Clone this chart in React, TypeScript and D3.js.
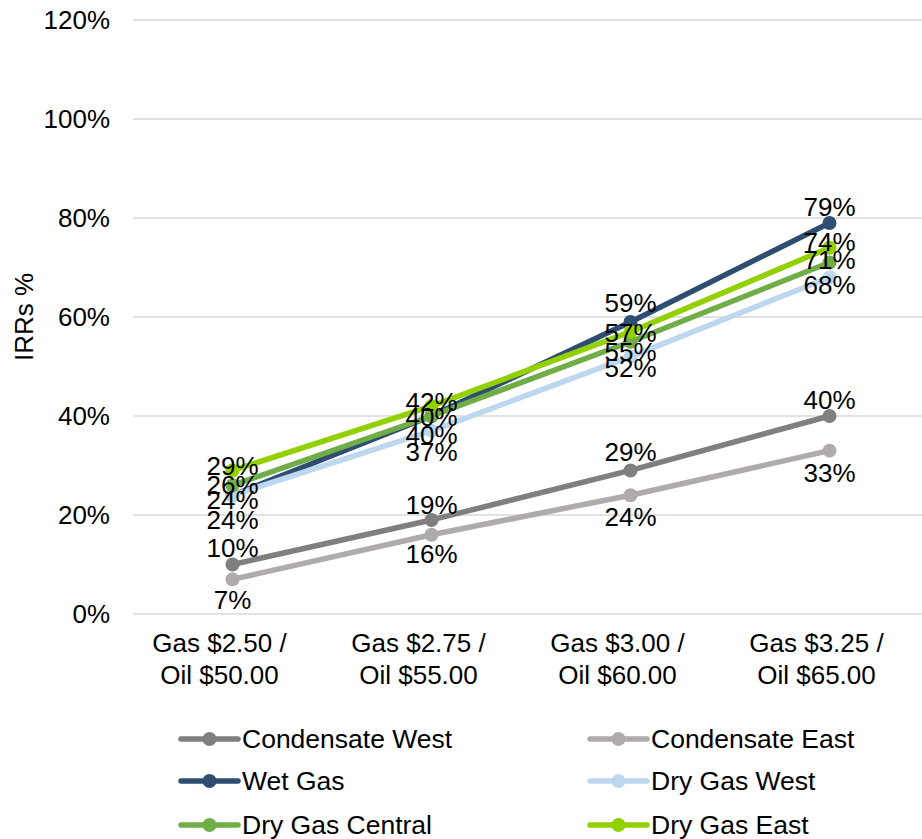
import React from "react";
import * as d3 from "d3";

const categories: string[][] = [
  ["Gas $2.50 /", "Oil $50.00"],
  ["Gas $2.75 /", "Oil $55.00"],
  ["Gas $3.00 /", "Oil $60.00"],
  ["Gas $3.25 /", "Oil $65.00"],
];

const seriesNames = [
  "Condensate West",
  "Condensate East",
  "Wet Gas",
  "Dry Gas West",
  "Dry Gas Central",
  "Dry Gas East",
];

const condensateWest = [0.10, 0.19, 0.29, 0.40];
const condensateEast = [0.07, 0.16, 0.24, 0.33];
const wetGas = [0.24, 0.40, 0.59, 0.79];
const dryGasWest = [0.24, 0.37, 0.52, 0.68];
const dryGasCentral = [0.26, 0.40, 0.55, 0.71];
const dryGasEast = [0.29, 0.42, 0.57, 0.74];

const yTicks = [0, 0.2, 0.4, 0.6, 0.8, 1.0, 1.2];

// styles (kept separate from data)
const colors = ["#7f7f7f", "#afabab", "#2e4d73", "#bdd7ee", "#70ad47", "#92d000"];
const labelDy = [
  [-17, -15, -18, -16],
  [21, 19, 22, 22],
  [5, 19, -19, -16],
  [25, 21, 11, 8],
  [0, 1, 10, -3],
  [-4, -4, 1, -6],
];

const W = 922;
const H = 839;
const FONT = "'Liberation Sans', Arial, sans-serif";
const FS = 26;

export default function App() {
  const values = [condensateWest, condensateEast, wetGas, dryGasWest, dryGasCentral, dryGasEast];
  const plotLeft = 133;
  const plotRight = 929;
  const y = d3.scaleLinear().domain([0, 1.2]).range([614, 20]);
  const x = d3
    .scaleBand<number>()
    .domain(categories.map((_, i) => i))
    .range([plotLeft, plotRight]);
  const cx = (i: number) => (x(i) as number) + x.bandwidth() / 2;
  const line = d3
    .line<number>()
    .x((_, i) => cx(i))
    .y((d) => y(d));
  const pct = d3.format(".0%");

  const legendCols = [181, 590];
  const legendRows = [739, 781, 825];
  const catShift = -13;

  return (
    <div style={{ position: "absolute", left: 0, top: 0 }}>
      <svg width={W} height={H} style={{ display: "block", background: "#fff" }} fontFamily={FONT}>
        {yTicks.map((t) => (
          <g key={t}>
            <line x1={plotLeft} x2={W} y1={y(t)} y2={y(t)} stroke="#d9d9d9" strokeWidth={1.5} />
            <text x={110} y={y(t)} textAnchor="end" dominantBaseline="central" fontSize={FS} fill="#000">
              {pct(t)}
            </text>
          </g>
        ))}
        <text
          transform={`translate(24,${(y(0) + y(1.2)) / 2}) rotate(-90)`}
          textAnchor="middle"
          dominantBaseline="central"
          fontSize={FS}
          fill="#000"
        >
          IRRs %
        </text>
        {categories.map((c, i) => (
          <text key={i} x={cx(i) + catShift} textAnchor="middle" fontSize={FS} fill="#000">
            <tspan x={cx(i) + catShift} y={643} dominantBaseline="central">{c[0]}</tspan>
            <tspan x={cx(i) + catShift} y={675} dominantBaseline="central">{c[1]}</tspan>
          </text>
        ))}
        {values.map((vals, s) => (
          <g key={s}>
            <path d={line(vals) || ""} fill="none" stroke={colors[s]} strokeWidth={5.5} strokeLinejoin="round" strokeLinecap="round" />
            {vals.map((v, i) => (
              <circle key={i} cx={cx(i)} cy={y(v)} r={7} fill={colors[s]} />
            ))}
          </g>
        ))}
        {values.map((vals, s) => (
          <g key={"l" + s}>
            {vals.map((v, i) => (
              <text
                key={i}
                x={cx(i)}
                y={y(v) + labelDy[s][i]}
                textAnchor="middle"
                dominantBaseline="central"
                fontSize={FS}
                fill="#000"
              >
                {pct(v)}
              </text>
            ))}
          </g>
        ))}
        {seriesNames.map((name, s) => {
          const lx = legendCols[s % 2];
          const ly = legendRows[Math.floor(s / 2)];
          return (
            <g key={name}>
              <line x1={lx} x2={lx + 57} y1={ly} y2={ly} stroke={colors[s]} strokeWidth={5.5} strokeLinecap="round" />
              <circle cx={lx + 28.5} cy={ly} r={7} fill={colors[s]} />
              <text x={lx + 61} y={ly} dominantBaseline="central" fontSize={26.5} fill="#000">
                {name}
              </text>
            </g>
          );
        })}
      </svg>
    </div>
  );
}
